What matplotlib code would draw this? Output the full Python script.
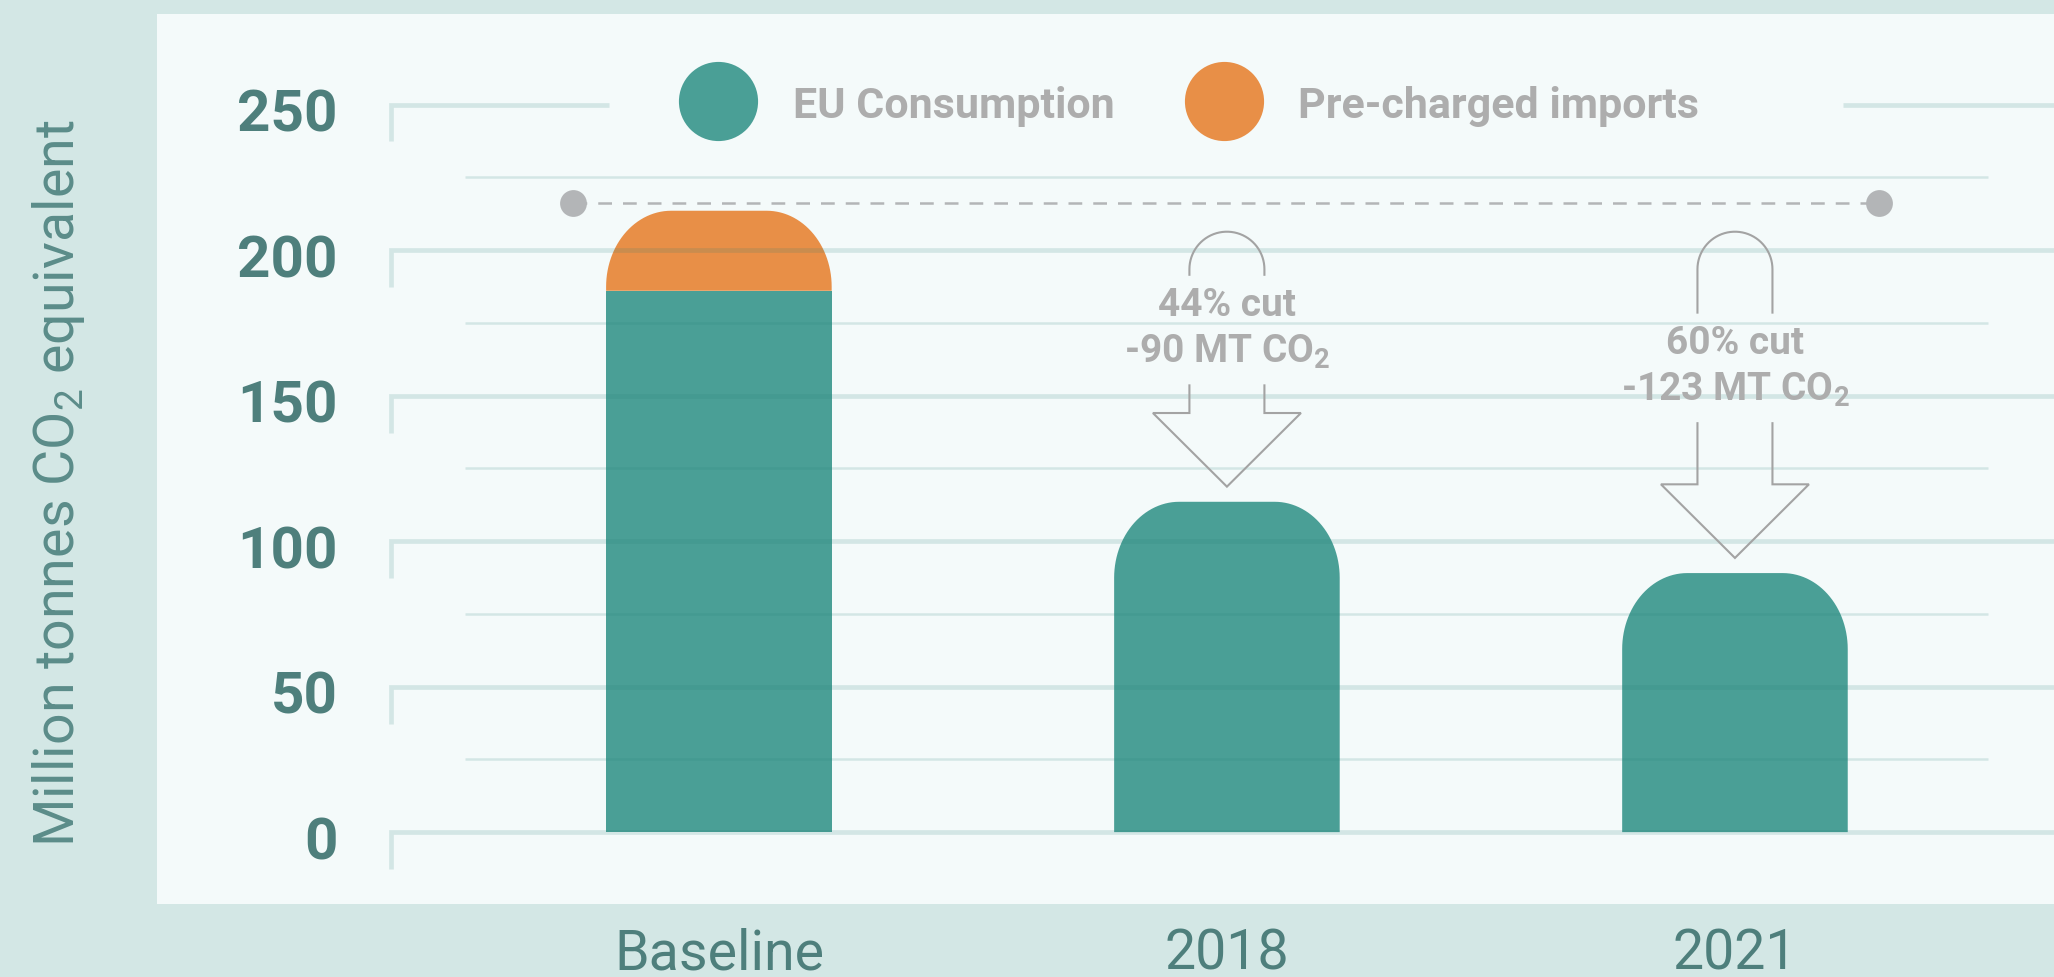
import matplotlib
matplotlib.use('Agg')
import matplotlib.pyplot as plt
import numpy as np
from matplotlib.lines import Line2D
from matplotlib.patches import Polygon
from matplotlib.transforms import ScaledTranslation

plt.rcParams['font.family'] = ['Roboto', 'DejaVu Sans']
plt.rcParams['mathtext.fontset'] = 'custom'
plt.rcParams['mathtext.rm'] = 'Roboto'
plt.rcParams['mathtext.bf'] = 'Roboto:bold'

# ---- data ----
categories = ['Baseline', '2018', '2021']
eu_consumption = [186, 113.5, 89]
precharged_imports = [27.5, 0, 0]
baseline_level = 216
cut_pct = ['', '44% cut', '60% cut']
cut_abs = ['', '-90 MT CO$_\\mathbf{2}$', '-123 MT CO$_\\mathbf{2}$']
y_ticks = [0, 50, 100, 150, 200, 250]

# ---- style ----
TEAL = '#4a9f96'
ORANGE = '#e88f47'
BG = '#d3e7e5'
PANEL = '#f4fafa'
LABEL = '#4e7f7c'
GREY_TXT = '#adadad'
GREY_LN = '#a3a3a3'
DOT = '#b3b5b7'
GRID = (40/255, 128/255, 120/255, 0.16)

fig = plt.figure(figsize=(20.54, 9.77), dpi=100, facecolor=BG)
ax = fig.add_axes([157/2054, 73/977, 1897/2054, 890/977], facecolor=PANEL)
ax.set_xlim(-1.106, 2.628)
ax.set_ylim(-24.7, 281.1)
for s in ax.spines.values():
    s.set_visible(False)

x = np.arange(len(categories))
b_eu = ax.bar(x, eu_consumption, width=0.444, color=TEAL, lw=0, zorder=2)
b_im = ax.bar(x, precharged_imports, bottom=eu_consumption, width=0.444,
              color=ORANGE, lw=0, zorder=2)

# pixel scale of data units
p0, p1 = ax.transData.transform([(0, 0), (1, 1)])
sx, sy = p1[0] - p0[0], p1[1] - p0[1]

def round_top(rect, rxp=65, ryp=76):
    x0, y0 = rect.get_x(), rect.get_y()
    w, h = rect.get_width(), rect.get_height()
    rx, ry = rxp / sx, min(ryp / sy, h)
    t1 = np.linspace(np.pi, np.pi / 2, 30)
    t2 = np.linspace(np.pi / 2, 0, 30)
    left = np.column_stack([x0 + rx + rx * np.cos(t1), y0 + h - ry + ry * np.sin(t1)])
    right = np.column_stack([x0 + w - rx + rx * np.cos(t2), y0 + h - ry + ry * np.sin(t2)])
    verts = np.vstack([[x0, y0], left, right, [x0 + w, y0]])
    ax.add_patch(Polygon(verts, closed=True, fc=rect.get_facecolor(), ec='none',
                         zorder=rect.get_zorder()))
    rect.set_visible(False)

for i in range(len(categories)):
    round_top(b_im[i] if precharged_imports[i] > 0 else b_eu[i])

# ---- gridlines with little left brackets ----
gx0, gx1 = -0.646, 2.628
for v in y_ticks:
    if v == y_ticks[-1]:
        ax.add_line(Line2D([gx0, gx0, -0.2165], [v - 12.7, v, v], color=GRID, lw=3.4,
                           solid_joinstyle='miter', solid_capstyle='butt', zorder=3))
        ax.add_line(Line2D([2.213, gx1], [v, v], color=GRID, lw=3.4,
                           solid_capstyle='butt', zorder=3))
    else:
        ax.add_line(Line2D([gx0, gx0, gx1], [v - 12.7, v, v], color=GRID, lw=3.4,
                           solid_joinstyle='miter', solid_capstyle='butt', zorder=3))
for v in range(25, 250, 50):
    ax.add_line(Line2D([-0.499, 2.498], [v, v], color=GRID, lw=1.8,
                       solid_capstyle='butt', zorder=3))

# ---- baseline reference line ----
ax.plot([-0.288, 2.283], [baseline_level] * 2, color=DOT, lw=1.8,
        ls=(0, (5.5, 4.4)), zorder=4)
ax.plot([-0.288, 2.283], [baseline_level] * 2, 'o', ms=19.3, color=DOT, mew=0, zorder=5)

# ---- cut annotations ----
totals = [a + b for a, b in zip(eu_consumption, precharged_imports)]
text_mid = [None, 173, 160]
sw, hw = 37.5 / sx, 74 / sx
ry = 37.5 / sy
for i in (1, 2):
    cx = x[i]
    tip = totals[i] + 5.2
    base = tip + 25.3
    shaft_top = text_mid[i] - 19.5
    legs = text_mid[i] + 18.5
    ac = 206.3 - ry
    t = np.linspace(np.pi, 0, 40)
    ax_x = np.concatenate([[cx - sw], cx + sw * np.cos(t), [cx + sw]])
    ax_y = np.concatenate([[legs], ac + ry * np.sin(t), [legs]])
    ax.plot(ax_x, ax_y, color=GREY_LN, lw=1.5, zorder=4)
    ax.plot([cx - sw, cx - sw, cx - hw, cx, cx + hw, cx + sw, cx + sw],
            [shaft_top, base, base, tip, base, base, shaft_top],
            color=GREY_LN, lw=1.5, solid_joinstyle='miter', zorder=4)
    ax.text(cx, text_mid[i] + 8, cut_pct[i], ha='center', va='center', fontsize=28,
            weight='bold', color=GREY_TXT, zorder=5)
    ax.text(cx, text_mid[i] - 8, cut_abs[i], ha='center', va='center', fontsize=28,
            weight='bold', color=GREY_TXT, zorder=5)

# ---- legend ----
handles = [Line2D([], [], ls='', marker='o', ms=57, mfc=TEAL, mec='none'),
           Line2D([], [], ls='', marker='o', ms=57, mfc=ORANGE, mec='none')]
ax.legend(handles, ['EU Consumption', 'Pre-charged imports'], loc='center',
          bbox_to_anchor=((1189 - 157) / 1897, (904 - 105) / 890), ncol=2,
          frameon=False, prop={'size': 31, 'weight': 'bold'}, labelcolor=GREY_TXT,
          handlelength=1.835, handletextpad=0.81, columnspacing=1.63,
          borderpad=0, borderaxespad=0, handleheight=1.0)

# ---- axes text ----
ax.set_yticks(y_ticks)
ax.set_yticklabels([str(t) for t in y_ticks], fontsize=42, fontweight='bold', color=LABEL)
ax.tick_params(axis='y', length=0, pad=-130.3)
for lab in ax.get_yticklabels():
    lab.set_transform(lab.get_transform() + ScaledTranslation(0, -5.5 / 100, fig.dpi_scale_trans))

ax.set_xticks(x, categories, fontsize=40, color=LABEL)
ax.tick_params(axis='x', length=0, pad=17)

ax.set_ylabel('Million tonnes CO$_2$ equivalent', fontsize=40, color='#5b8c89', va='center')
ax.yaxis.set_label_coords((59 - 157) / 1897, (904 - 483.5) / 890)

fig.savefig('out.png', dpi=100, facecolor=BG)
